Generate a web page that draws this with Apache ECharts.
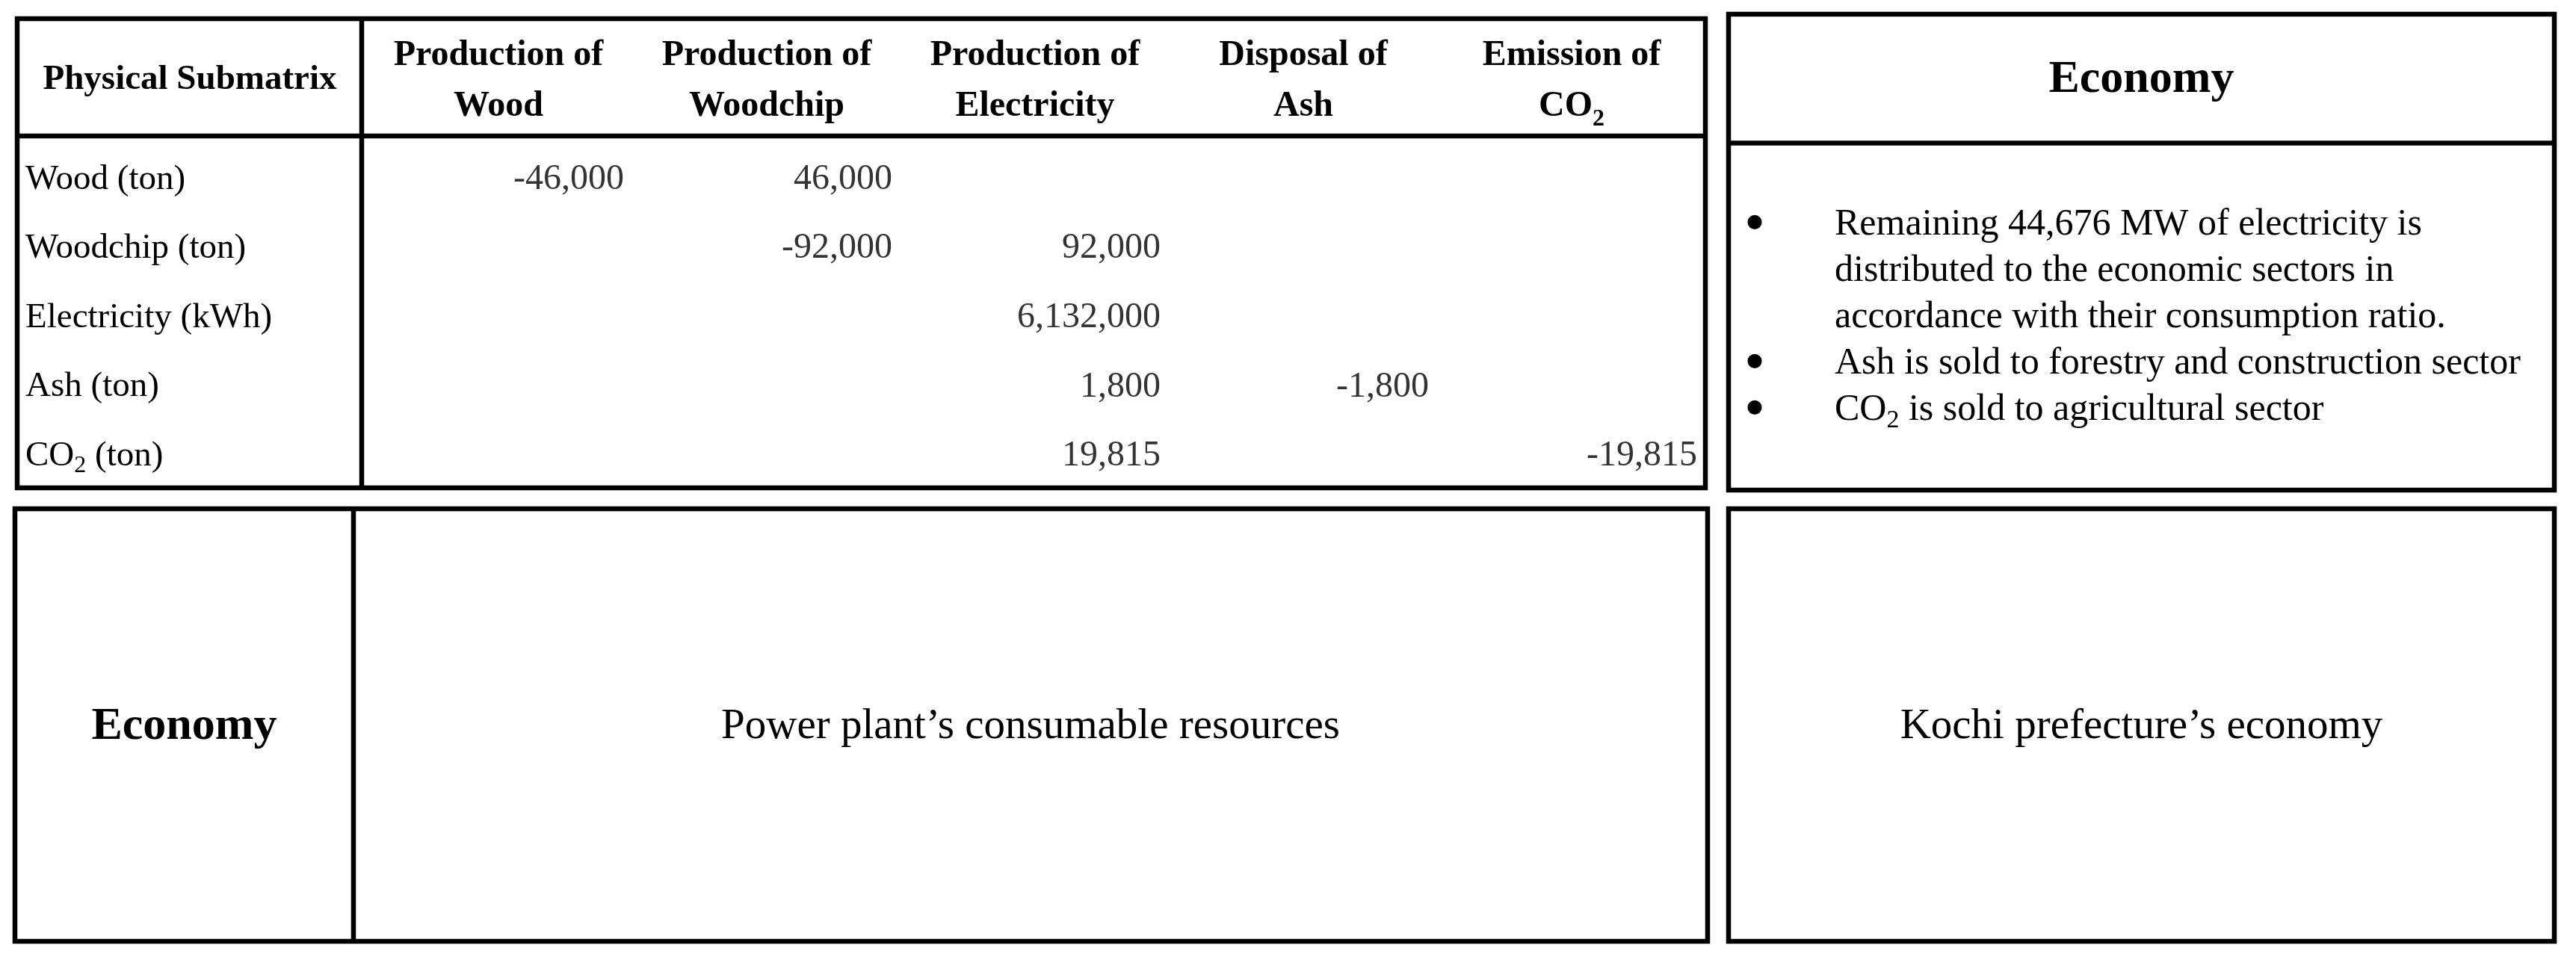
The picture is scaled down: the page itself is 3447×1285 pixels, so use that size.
<!DOCTYPE html>
<html><head><meta charset="utf-8">
<script src="https://cdn.jsdelivr.net/npm/echarts@6/dist/echarts.min.js"></script>
<style>html,body{margin:0;padding:0;background:#fff}#c{width:3447px;height:1285px}</style>
</head><body><div id="c"></div>
<script>
// ---- data ----
const columns = ['Production of\nWood', 'Production of\nWoodchip', 'Production of\nElectricity', 'Disposal of\nAsh', 'Emission of\nCO2'];
const rows = ['Wood (ton)', 'Woodchip (ton)', 'Electricity (kWh)', 'Ash (ton)', 'CO2 (ton)'];
const woodValues        = [-46000, 46000, null, null, null];
const woodchipValues    = [null, -92000, 92000, null, null];
const electricityValues = [null, null, 6132000, null, null];
const ashValues         = [null, null, 1800, -1800, null];
const co2Values         = [null, null, 19815, null, -19815];
const cornerTitle = 'Physical Submatrix';
const economyTitle = 'Economy';
const economyNotes = [
  'Remaining 44,676 MW of electricity is',
  'distributed to the economic sectors in',
  'accordance with their consumption ratio.',
  'Ash is sold to forestry and construction sector',
  'CO2 is sold to agricultural sector'
];
const bulletStarts = [true, false, false, true, true];
const plantResources = 'Power plant\u2019s consumable resources';
const kochiEconomy = 'Kochi prefecture\u2019s economy';

// ---- build ----
const FF = '"Liberation Serif", "Times New Roman", serif';
const sub = s => s.replace(/CO2/g, 'CO{sub|2}');
const matrix = [woodValues, woodchipValues, electricityValues, ashValues, co2Values];
const points = [];
matrix.forEach((row, r) => row.forEach((v, c) => { if (v !== null) points.push([c, r, v]); }));

const LW = 6.5;
const frame = (x, y, w, h) => ({ type: 'rect', shape: { x, y, width: w, height: h }, style: { fill: 'none', stroke: '#000', lineWidth: LW }, silent: true });
const line = (x1, y1, x2, y2) => ({ type: 'line', shape: { x1, y1, x2, y2 }, style: { stroke: '#000', lineWidth: LW }, silent: true });
const label = (text, x, y, size, weight, extra) => Object.assign({
  type: 'text', x, y, silent: true,
  style: { text, fill: '#000', fontSize: size, fontWeight: weight, fontFamily: FF, align: 'center', verticalAlign: 'middle' }
}, extra || {});

const chart = echarts.init(document.getElementById('c'));
chart.setOption({
  animation: false,
  backgroundColor: '#fff',
  grid: { left: 487.5, right: 1164.5, top: 193.9, bottom: 628.1, containLabel: false },
  xAxis: {
    type: 'category', data: columns, position: 'top',
    axisLine: { show: false }, axisTick: { show: false }, splitLine: { show: false },
    axisLabel: {
      interval: 0, margin: 18, color: '#000', fontSize: 48, fontWeight: 'bold', fontFamily: FF, lineHeight: 67.5,
      formatter: sub,
      rich: { sub: { fontSize: 32, fontWeight: 'bold', fontFamily: FF, color: '#000', lineHeight: 43.5, verticalAlign: 'bottom' } }
    }
  },
  yAxis: {
    type: 'category', data: rows, inverse: true,
    axisLine: { show: false }, axisTick: { show: false }, splitLine: { show: false },
    axisLabel: {
      interval: 0, align: 'left', margin: 453.5, color: '#000', fontSize: 47, fontFamily: FF, lineHeight: 58,
      formatter: sub,
      rich: { sub: { fontSize: 32, fontFamily: FF, color: '#000', lineHeight: 34, verticalAlign: 'bottom' } }
    }
  },
  series: [{
    type: 'scatter', data: points, symbolSize: 1, silent: true,
    itemStyle: { color: 'rgba(0,0,0,0)' },
    label: {
      show: true, position: 'inside', align: 'right', verticalAlign: 'middle', offset: [168, 0],
      color: '#000', fontSize: 48, fontFamily: FF,
      formatter: p => p.value[2].toLocaleString('en-US')
    }
  }],
  graphic: [
    frame(23, 25, 2259, 628), line(23, 182, 2282, 182), line(484, 25, 484, 653),
    frame(2313, 19, 1105, 637), line(2313, 191.5, 3418, 191.5),
    frame(20, 681, 2265, 579), line(473, 681, 473, 1260),
    frame(2313, 681, 1105, 579),
    label(cornerTitle, 254, 107, 47, 'bold'),
    label(economyTitle, 2865.5, 107, 62, 'bold'),
    {
      type: 'text', x: 2455, y: 270, silent: true,
      style: {
        text: sub(economyNotes.join('\n')), fill: '#000', fontSize: 50, fontFamily: FF, lineHeight: 62,
        align: 'left', verticalAlign: 'top',
        rich: { sub: { fontSize: 34, fontFamily: FF, fill: '#000', lineHeight: 38, verticalAlign: 'bottom' } }
      }
    },
    {
      type: 'text', x: 2348, y: 272, silent: true,
      style: {
        text: bulletStarts.map(b => b ? '\u2022' : ' ').join('\n'), fill: '#000', fontSize: 80, fontFamily: FF, lineHeight: 62,
        align: 'center', verticalAlign: 'top'
      }
    },
    label(economyTitle, 246.5, 973, 62, 'bold'),
    label(plantResources, 1379, 973, 57, 'normal'),
    label(kochiEconomy, 2865.5, 973, 57, 'normal')
  ]
});
</script>
</body></html>
